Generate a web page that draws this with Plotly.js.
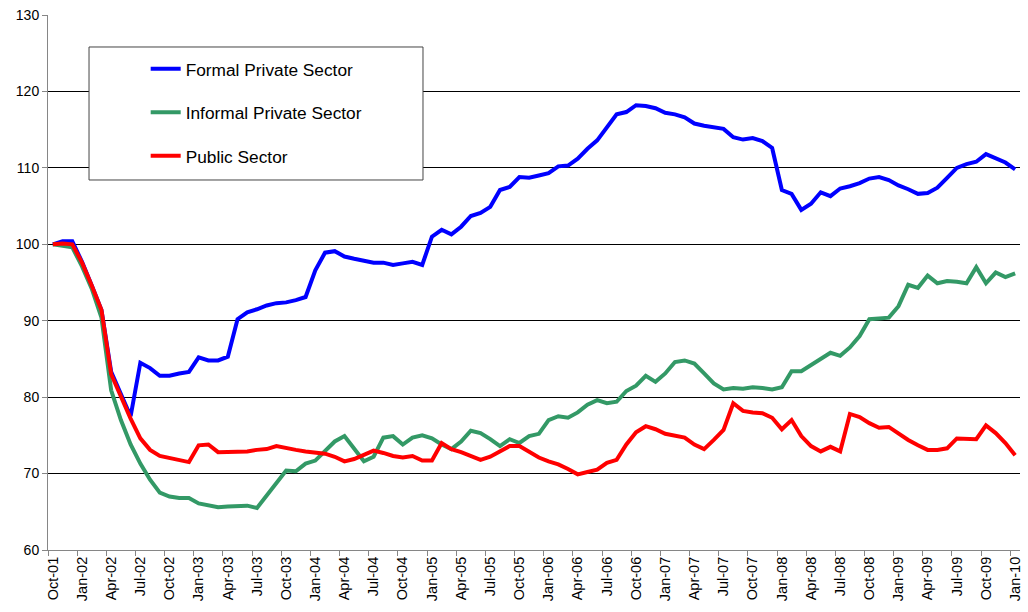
<!DOCTYPE html>
<html>
<head>
<meta charset="utf-8">
<script src="https://cdn.plot.ly/plotly-3.0.1.min.js"></script>
<style>html,body{margin:0;padding:0;background:#fff;}#chart{width:1028px;height:612px;}</style>
</head>
<body>
<div id="chart"></div>
<script>
// Monthly index, Oct-01 .. Jan-10 (100 months), Oct-01 = 100
var formalPrivate = [
100.0,100.4,100.4,97.7,94.6,91.4,83.3,80.4,77.5,84.5,
83.8,82.8,82.8,83.1,83.3,85.2,84.8,84.8,85.3,90.2,
91.1,91.5,92.0,92.3,92.4,92.7,93.1,96.6,98.9,99.1,
98.4,98.1,97.8,97.6,97.6,97.3,97.5,97.7,97.3,101.0,
101.9,101.3,102.3,103.7,104.1,104.9,107.1,107.5,108.8,108.7,
109.0,109.3,110.2,110.3,111.2,112.5,113.6,115.4,117.0,117.3,
118.2,118.1,117.8,117.2,117.0,116.6,115.8,115.5,115.3,115.1,
114.0,113.7,113.9,113.5,112.6,107.1,106.6,104.5,105.3,106.8,
106.3,107.3,107.6,108.0,108.6,108.8,108.4,107.7,107.2,106.6,
106.7,107.4,108.7,110.0,110.5,110.8,111.8,111.2,110.7,109.8
];
var informalPrivate = [
100.0,99.8,99.6,97.1,94.2,90.4,80.9,77.0,73.8,71.3,
69.2,67.5,67.0,66.8,66.8,66.1,65.9,65.6,65.7,65.8,
65.8,65.5,67.2,68.9,70.4,70.3,71.3,71.7,72.9,74.2,
74.9,73.3,71.6,72.2,74.7,74.9,73.8,74.7,75.0,74.6,
73.8,73.2,74.2,75.6,75.3,74.5,73.6,74.5,74.0,74.9,
75.2,77.0,77.5,77.3,78.0,79.0,79.6,79.2,79.4,80.8,
81.5,82.8,82.0,83.1,84.6,84.8,84.4,83.1,81.8,81.0,
81.2,81.1,81.3,81.2,81.0,81.3,83.4,83.4,84.2,85.1,
85.8,85.4,86.5,88.0,90.2,90.3,90.4,91.9,94.7,94.3,
95.9,94.9,95.2,95.1,94.9,97.0,94.9,96.3,95.7,96.2
];
var publicSector = [
100.0,100.1,100.0,97.6,94.6,91.4,83.0,80.0,77.2,74.6,
73.1,72.3,72.0,71.7,71.5,73.7,73.8,72.8,72.8,72.9,
72.9,73.1,73.2,73.6,73.3,73.1,72.9,72.8,72.6,72.2,
71.6,71.9,72.5,73.0,72.7,72.3,72.1,72.3,71.7,71.7,
74.0,73.2,72.8,72.3,71.8,72.2,72.9,73.6,73.6,72.9,
72.1,71.6,71.2,70.6,69.9,70.2,70.5,71.4,71.8,73.8,
75.4,76.2,75.8,75.2,75.0,74.7,73.8,73.2,74.4,75.7,
79.2,78.2,78.0,77.9,77.3,75.8,77.0,74.9,73.6,72.9,
73.5,72.9,77.8,77.4,76.6,76.0,76.1,75.2,74.4,73.7,
73.1,73.1,73.3,74.6,74.5,74.5,76.3,75.3,74.0,72.4
];
var tickLabels = [
"Oct-01","Jan-02","Apr-02","Jul-02","Oct-02","Jan-03","Apr-03","Jul-03","Oct-03",
"Jan-04","Apr-04","Jul-04","Oct-04","Jan-05","Apr-05","Jul-05","Oct-05",
"Jan-06","Apr-06","Jul-06","Oct-06","Jan-07","Apr-07","Jul-07","Oct-07",
"Jan-08","Apr-08","Jul-08","Oct-08","Jan-09","Apr-09","Jul-09","Oct-09","Jan-10"
];
var seriesNames = ["Formal Private Sector","Informal Private Sector","Public Sector"];
var seriesColors = ["#0000FF","#339966","#FF0000"];

var xIdx = formalPrivate.map(function(_, i){ return i; });
var tickVals = tickLabels.map(function(_, k){ return 3*k; });
var boundaryVals = tickLabels.map(function(_, k){ return 3*k - 0.5; });

var allSeries = [formalPrivate, informalPrivate, publicSector];
var traces = allSeries.map(function(vals, s){
  return {
    x: xIdx, y: vals, type: 'scatter', mode: 'lines',
    name: seriesNames[s], legendgroup: 'g'+s,
    line: {color: seriesColors[s], width: 4, shape: 'linear'}
  };
});
// invisible trace to carry boundary tick marks on the overlay axis
traces.push({x: [-0.5, 99.5], y: [60, 60], xaxis: 'x2', mode: 'lines',
  line: {width: 0, color: 'rgba(0,0,0,0)'}, showlegend: false, hoverinfo: 'skip'});

var fontFam = '"Liberation Sans", Arial, Helvetica, sans-serif';
var layout = {
  width: 1028, height: 612,
  margin: {l: 48, r: 8, t: 15, b: 62},
  paper_bgcolor: '#fff', plot_bgcolor: '#fff',
  font: {family: fontFam, size: 14, color: '#000'},
  showlegend: true,
  legend: {
    x: 0.1005, y: 0.9325, xanchor: 'left', yanchor: 'top',
    bgcolor: 'rgba(0,0,0,0)', borderwidth: 0,
    font: {family: fontFam, size: 17.3, color: '#000'},
    traceorder: 'grouped', tracegroupgap: 18, itemwidth: 30
  },
  xaxis: {
    range: [-0.5, 99.5], tickmode: 'array', tickvals: tickVals, ticktext: tickLabels,
    tickangle: -90, ticks: '', showgrid: false, zeroline: false,
    showline: true, linecolor: '#868686', linewidth: 1,
    tickfont: {family: fontFam, size: 14.5, color: '#000'}, fixedrange: true
  },
  xaxis2: {
    overlaying: 'x', side: 'bottom', range: [-0.5, 99.5], tickmode: 'array',
    tickvals: boundaryVals, showticklabels: false, ticks: 'outside', ticklen: 5,
    tickcolor: '#868686', tickwidth: 1, showgrid: false, zeroline: false, showline: false
  },
  yaxis: {
    range: [60, 130], dtick: 10, tick0: 60, ticks: 'outside', ticklen: 5,
    tickcolor: '#868686', showgrid: true, gridcolor: '#000', gridwidth: 1,
    zeroline: false, showline: true, linecolor: '#868686', linewidth: 1,
    tickfont: {family: fontFam, size: 14, color: '#000'}
  },
  shapes: [{
    type: 'rect', xref: 'paper', yref: 'paper',
    x0: 0.0422, x1: 0.3858, y0: 0.6916, y1: 0.9402,
    fillcolor: '#fff', line: {color: '#444', width: 1}, layer: 'above'
  }]
};
Plotly.newPlot('chart', traces, layout, {displayModeBar: false, staticPlot: true});
</script>
</body>
</html>
